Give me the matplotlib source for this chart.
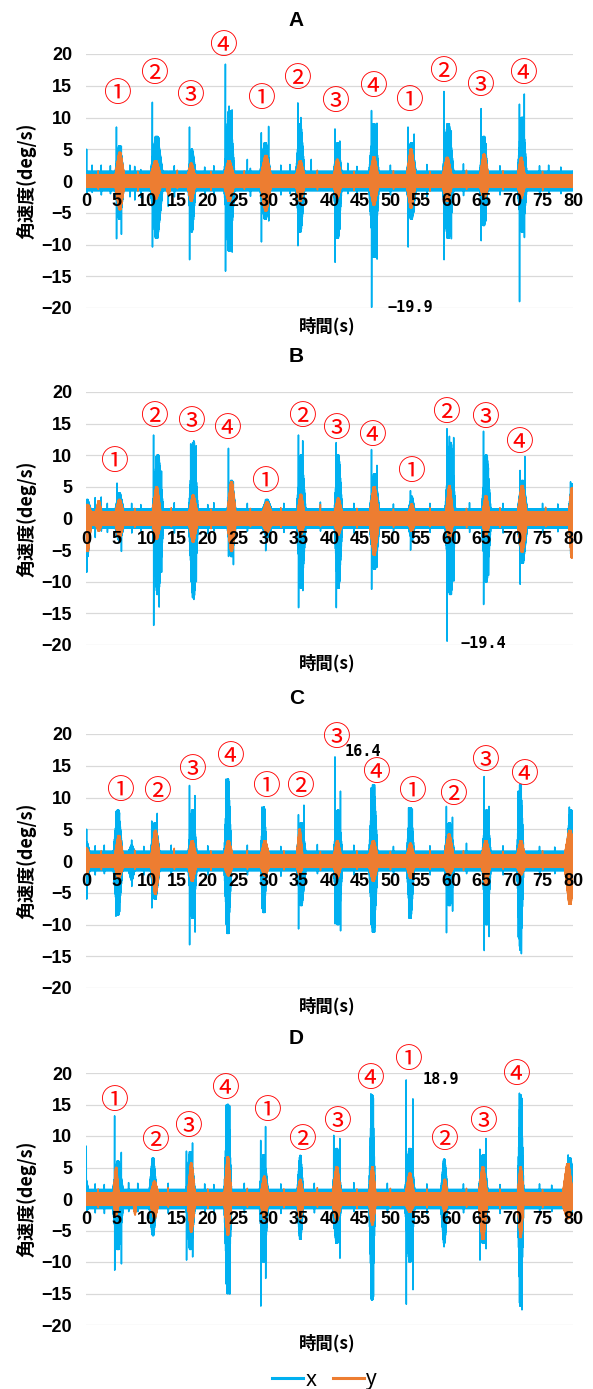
import numpy as np
import matplotlib
matplotlib.use("Agg")
import matplotlib.pyplot as plt
from matplotlib.lines import Line2D

BLUE = "#00B0F0"
ORANGE = "#ED7D31"
DT = 0.02

# baseline noise band (upper, lower) for x and y
X_BASE = (1.5, -1.5)
Y_BASE = (1.0, -1.0)

# bursts: (start s, end s, peak high, peak low); spikes: (t, high, low)
# ---- panel A ----
A_x_bursts = [(4.8, 6.2, 5.5, -6), (10.6, 12.6, 7, -9), (16.8, 18.0, 5, -8),
              (22.7, 24.4, 11, -11), (28.6, 30.3, 6, -6), (34.5, 35.9, 9, -8),
              (40.7, 42.0, 6, -9), (46.5, 48.1, 9, -12), (52.7, 54.2, 6, -6),
              (58.6, 60.4, 9, -9), (64.7, 66.0, 7, -7), (70.9, 72.4, 10, -8)]
A_x_spikes = [(0.1, 5.0, -2.0), (1.0, 2.5, -1.8), (2.5, 2.5, -2.2), (4.0, 2.4, -2.0),
              (7.2, 2.5, -2.5), (8.0, 2.3, -3.0), (9.0, 1.8, -2.6), (13.5, 1.5, -4.0),
              (14.5, 2.4, -2.5), (19.5, 2.2, -2.0), (21.0, 2.4, -2.3), (27.0, 2.0, -2.4),
              (32.0, 2.5, -2.2), (33.5, 2.6, -2.0), (44.5, 2.3, -2.4), (50.0, 2.5, -2.2),
              (56.0, 2.6, -2.5), (62.0, 2.7, -2.3), (68.0, 2.4, -2.2), (74.5, 2.4, -2.4),
              (78.0, 2.2, -2.0),
              (5.0, 8.5, -9.1), (5.8, 5.5, -8.4), (10.9, 12.4, -10.4), (11.6, 7.0, -9.0),
              (12.0, 6.8, -5.0), (17.0, 8.5, -12.4), (17.5, 4.5, -7.0), (22.9, 18.4, -14.2),
              (23.5, 11.8, -9.0), (24.0, 11.2, -11.2), (26.5, 3.4, -1.5), (28.8, 7.6, -9.6),
              (30.0, 8.6, -6.3), (34.8, 12.3, -10.2), (35.3, 10.0, -7.6), (37.0, 3.4, -1.5),
              (40.9, 8.2, -12.8), (41.7, 6.3, -7.6), (43.0, 2.8, -2.0), (46.9, 11.1, -19.9),
              (47.8, 9.1, -12.3), (52.9, 8.5, -10.4), (53.9, 7.4, -4.9), (58.8, 14.1, -12.4),
              (60.0, 7.9, -9.1), (64.9, 11.4, -9.4), (65.7, 5.9, -6.3), (71.2, 12.1, -19.0),
              (72.0, 13.7, -8.9), (76.0, 2.5, -2.0)]
A_y_bursts = [(4.8, 6.3, 4.5, -4.5), (10.6, 12.3, 3.2, -2.8), (13.2, 13.9, 0.5, -2.2),
              (16.7, 17.9, 2.8, -3.2), (22.7, 24.3, 3.2, -3.2), (28.7, 30.4, 4.0, -4.7),
              (34.5, 35.9, 3.2, -3.2), (40.7, 41.9, 3.4, -2.7), (46.6, 48.0, 3.8, -3.8),
              (52.7, 54.1, 5.0, -4.2), (58.6, 60.1, 3.7, -3.2), (64.7, 66.1, 4.2, -2.7),
              (70.9, 72.1, 3.7, -2.7)]
A_y_spikes = [(2.0, 1.6, -1.3), (8.5, 1.5, -1.6), (15.0, 1.7, -1.2), (20.5, 1.5, -1.5),
              (26.0, 1.6, -1.3), (38.0, 1.7, -1.4), (44.0, 1.5, -1.5), (50.5, 1.6, -1.3),
              (56.5, 1.5, -1.6), (62.5, 1.7, -1.3), (68.5, 1.6, -1.4), (75.0, 1.5, -1.5)]
A_marks_t = [5.1, 11.1, 17.1, 22.5, 28.8, 34.6, 40.9, 47.2, 53.1, 58.6, 64.7, 71.8]
A_marks_y = [13.7, 16.9, 13.4, 21.3, 12.9, 16.1, 12.4, 14.8, 12.6, 17.1, 14.9, 16.9]
A_marks = ["①", "②", "③", "④", "①", "②", "③", "④", "①", "②", "③", "④"]
A_note = (53.2, -20.0, "−19.9")

# ---- panel B ----
B_x_bursts = [(-0.4, 0.8, 3, -6), (4.8, 6.2, 4, -3.5), (10.9, 12.7, 10, -12),
              (16.9, 18.4, 12, -12.5), (23.2, 24.6, 6, -6), (29.0, 30.5, 3, -3),
              (34.6, 36.1, 10, -11), (40.8, 42.1, 10, -11), (46.6, 48.2, 7, -8),
              (53.0, 54.0, 3.5, -3.5), (59.0, 60.7, 12, -12), (65.0, 66.5, 10, -10),
              (70.9, 72.5, 6, -7), (79.3, 80.4, 5.5, -5.5)]
B_x_spikes = [(0.1, 2.5, -8.5), (1.5, 3.3, -3.0), (2.5, 3.4, -2.0), (3.5, 2.4, -2.2),
              (5.1, 5.6, -3.0), (5.8, 3.0, -5.2), (7.5, 2.4, -2.3), (9.0, 2.2, -2.0),
              (11.1, 13.2, -16.9), (11.5, 9.8, -9.0), (12.0, 9.0, -14.0), (12.4, 7.5, -8.5),
              (14.5, 2.5, -2.3), (17.2, 11.8, -10.0), (17.7, 12.3, -12.8), (18.1, 11.5, -10.0),
              (20.0, 2.2, -2.4), (21.0, 2.5, -2.0), (23.4, 11.1, -6.0), (24.2, 5.8, -7.3),
              (26.5, 2.4, -2.0), (29.5, 3.0, -5.1), (32.5, 2.4, -2.2), (34.9, 13.2, -14.1),
              (35.6, 12.3, -11.4), (38.5, 2.6, -2.0), (41.1, 12.0, -14.1), (41.7, 8.5, -9.9),
              (44.0, 2.4, -2.3), (46.9, 10.9, -11.2), (47.8, 8.4, -7.7), (50.5, 2.3, -2.1),
              (53.3, 4.4, -5.0), (56.5, 2.4, -2.2), (59.3, 14.2, -19.4), (59.7, 13.0, -12.0),
              (60.4, 12.8, -9.9), (63.0, 2.5, -2.2), (65.3, 13.8, -13.6), (66.1, 8.0, -9.0),
              (68.5, 2.4, -2.3), (71.3, 7.6, -10.4), (72.1, 9.8, -5.1), (75.0, 2.4, -2.2),
              (77.5, 2.3, -2.1), (79.6, 5.8, -5.6)]
B_y_bursts = [(-0.4, 0.9, 2.2, -5.2), (1.6, 2.6, 2.8, -2.0), (4.8, 6.2, 3.0, -3.0),
              (10.9, 12.3, 5.0, -3.2), (16.9, 18.3, 3.7, -3.7), (23.2, 24.6, 5.8, -5.2),
              (29.0, 30.5, 2.6, -2.2), (34.7, 35.9, 3.8, -2.5), (40.8, 42.1, 3.2, -2.6),
              (46.6, 48.1, 5.0, -5.8), (53.0, 54.0, 2.3, -2.0), (59.1, 60.3, 5.2, -3.2),
              (65.1, 66.3, 3.6, -2.6), (70.9, 72.4, 5.2, -5.3), (79.3, 80.3, 4.8, -6.2)]
B_y_spikes = [(8.0, 1.6, -1.4), (14.0, 1.7, -1.3), (20.5, 1.5, -1.6), (27.0, 1.6, -1.3),
              (32.0, 1.7, -1.4), (38.5, 2.2, -1.3), (44.5, 1.6, -1.5), (50.5, 1.5, -1.4),
              (56.5, 1.7, -1.3), (62.5, 1.6, -1.5), (68.0, 1.7, -1.4), (75.5, 1.8, -1.3)]
B_marks_t = [4.6, 11.2, 17.2, 23.1, 29.4, 35.4, 41.1, 46.9, 53.3, 59.2, 65.5, 71.1]
B_marks_y = [8.9, 16.1, 15.3, 14.1, 5.8, 16.1, 14.1, 13.0, 7.3, 16.7, 15.9, 11.9]
B_marks = ["①", "②", "③", "④", "①", "②", "③", "④", "①", "②", "③", "④"]
B_note = (65.2, -19.7, "−19.4")

# ---- panel C ----
C_x_bursts = [(-0.4, 0.6, 3, -4), (4.5, 6.0, 8, -8.5), (7.0, 8.0, 2.5, -3),
              (10.6, 12.1, 6, -6), (16.8, 18.2, 8, -9), (22.7, 23.9, 12.9, -11.4),
              (28.7, 29.7, 8.5, -8.1), (34.6, 36.1, 6, -7), (40.7, 42.1, 8, -10),
              (46.5, 47.9, 12, -11.2), (52.7, 53.9, 8.4, -9), (58.9, 60.5, 6, -7),
              (65.1, 66.5, 8, -10), (70.8, 71.9, 12, -14), (78.9, 80.4, 8, -5)]
C_x_spikes = [(0.1, 5.0, -6.0), (1.5, 2.4, -2.2), (3.0, 2.5, -2.0), (4.9, 7.8, -8.7),
              (5.5, 7.6, -8.0), (7.5, 3.3, -4.0), (9.5, 2.3, -2.2), (10.8, 6.3, -7.4),
              (11.7, 7.5, -4.0), (14.0, 2.5, -2.4), (17.0, 11.9, -13.2), (17.9, 10.3, -11.2),
              (20.0, 2.4, -2.2), (23.0, 12.9, -10.0), (23.5, 12.5, -11.4), (26.5, 2.5, -2.2),
              (28.9, 8.5, -7.5), (29.4, 8.2, -8.1), (32.0, 2.3, -2.4), (34.9, 7.3, -10.7),
              (35.8, 8.8, -4.0), (38.0, 2.6, -2.0), (40.9, 16.4, -9.9), (41.8, 11.0, -11.0),
              (44.0, 2.5, -2.2), (46.8, 11.5, -10.0), (47.4, 12.0, -11.2), (50.5, 2.3, -2.3),
              (53.0, 8.4, -9.0), (53.6, 8.2, -6.0), (56.5, 2.4, -2.2), (59.2, 8.6, -11.3),
              (60.2, 6.9, -7.9), (62.5, 2.8, -2.0), (65.4, 13.3, -14.1), (66.2, 8.6, -11.9),
              (68.5, 2.4, -2.2), (71.0, 11.0, -12.0), (71.5, 12.0, -14.6), (74.5, 2.3, -2.3),
              (77.0, 2.2, -2.0), (79.4, 8.5, -4.0)]
C_y_bursts = [(-0.4, 0.6, 2.0, -2.0), (4.7, 6.1, 4.0, -2.7), (10.7, 12.1, 4.8, -5.2),
              (16.8, 18.1, 3.2, -3.2), (22.7, 24.1, 3.2, -2.3), (28.7, 30.1, 3.2, -2.3),
              (34.6, 35.6, 5.0, -2.2), (40.7, 41.9, 3.2, -2.7), (46.5, 47.9, 3.2, -3.2),
              (52.7, 53.9, 2.8, -2.7), (58.9, 60.4, 4.2, -2.2), (65.0, 66.4, 3.2, -3.7),
              (70.8, 72.1, 3.2, -2.2), (78.6, 80.4, 4.8, -6.8)]
C_y_spikes = [(2.5, 1.6, -1.4), (8.0, 1.7, -1.3), (14.5, 2.0, -1.3), (20.5, 1.6, -1.5),
              (26.5, 1.7, -1.3), (32.5, 1.6, -1.4), (38.5, 1.5, -1.5), (44.5, 1.6, -1.3),
              (50.0, 1.5, -1.4), (56.5, 1.7, -1.3), (62.0, 1.6, -1.5), (68.5, 1.5, -1.3),
              (75.0, 1.6, -1.4)]
C_marks_t = [5.6, 11.6, 17.4, 23.6, 29.5, 35.1, 41.0, 47.6, 53.6, 60.3, 65.5, 72.0]
C_marks_y = [11.0, 10.8, 14.4, 16.3, 11.6, 11.6, 19.4, 13.9, 10.9, 10.4, 15.7, 13.5]
C_marks = ["①", "②", "③", "④", "①", "②", "③", "④", "①", "②", "③", "④"]
C_note = (45.5, 17.2, "16.4")

# ---- panel D ----
D_x_bursts = [(-0.4, 0.4, 3, -2), (4.4, 6.1, 6, -8), (10.4, 11.6, 6.5, -5.8),
              (16.4, 17.9, 7.5, -8), (22.7, 23.9, 15, -15), (28.5, 29.9, 7, -10),
              (34.7, 35.7, 6.9, -6.4), (40.5, 41.9, 8, -7), (46.5, 47.5, 16.5, -16),
              (52.4, 54.0, 8, -10), (58.3, 59.4, 6.3, -7), (64.5, 66.0, 7, -7),
              (70.9, 71.9, 16.5, -17), (78.7, 80.3, 6.5, -2.5)]
D_x_spikes = [(0.05, 8.4, -2.0), (1.5, 2.4, -2.2), (3.0, 2.3, -2.3), (4.7, 13.2, -11.3),
              (5.8, 7.4, -10.3), (7.0, 2.6, -2.0), (8.5, 2.5, -2.0), (10.9, 6.5, -5.5),
              (13.5, 2.5, -2.3), (16.5, 7.6, -9.7), (17.5, 8.9, -9.2), (19.5, 2.4, -2.2),
              (21.0, 2.3, -2.4), (23.0, 14.9, -13.5), (23.6, 14.8, -15.1), (26.0, 2.5, -2.2),
              (28.7, 9.3, -17.0), (29.5, 11.5, -12.6), (32.0, 2.4, -2.3), (35.2, 6.9, -6.4),
              (37.5, 2.5, -2.2), (40.7, 10.1, -4.7), (41.7, 9.6, -9.4), (44.0, 2.6, -2.0),
              (46.8, 16.7, -15.8), (47.2, 16.0, -15.5), (49.5, 2.5, -2.2), (52.6, 18.9, -16.7),
              (53.7, 15.9, -14.4), (56.0, 2.4, -2.3), (58.8, 6.3, -7.6), (62.0, 2.4, -2.2),
              (64.7, 7.9, -9.7), (65.7, 9.6, -7.9), (68.0, 2.3, -2.3), (71.2, 16.8, -16.5),
              (71.6, 16.0, -17.6), (74.5, 2.4, -2.2), (76.5, 2.2, -2.0), (79.2, 7.0, -2.0)]
D_y_bursts = [(4.5, 5.4, 5.0, -2.5), (7.8, 8.3, 0.5, -2.5), (10.6, 11.9, 2.8, -3.1),
              (16.7, 17.9, 5.7, -5.2), (22.7, 23.9, 6.7, -5.7), (28.7, 29.9, 3.6, -3.1),
              (34.7, 35.7, 3.1, -3.1), (40.5, 41.9, 5.1, -3.4), (46.5, 47.6, 5.1, -4.1),
              (52.5, 53.9, 4.1, -2.1), (58.5, 59.4, 3.1, -2.1), (64.5, 65.9, 5.1, -6.4),
              (70.9, 71.9, 5.1, -6.1), (78.3, 80.0, 5.6, -3.1)]
D_y_spikes = [(2.0, 1.6, -1.4), (13.5, 1.8, -1.3), (20.0, 1.6, -1.5), (26.5, 1.7, -1.3),
              (32.5, 1.6, -1.4), (38.0, 1.8, -1.3), (44.5, 1.6, -1.5), (50.0, 1.7, -1.3),
              (56.0, 1.6, -1.4), (62.5, 1.7, -1.3), (68.0, 1.6, -1.5), (75.0, 1.5, -1.4)]
D_marks_t = [4.5, 11.3, 16.8, 22.8, 29.7, 35.4, 41.2, 46.7, 52.9, 58.8, 65.2, 70.7]
D_marks_y = [15.5, 9.2, 11.4, 17.4, 13.9, 9.4, 12.3, 19.0, 22.0, 9.4, 12.3, 19.7]
D_marks = ["①", "②", "③", "④", "①", "②", "③", "④", "①", "②", "③", "④"]
D_note = (58.3, 18.9, "18.9")

PANELS = [
    ("A", A_x_bursts, A_x_spikes, A_y_bursts, A_y_spikes, A_marks_t, A_marks_y, A_marks, A_note),
    ("B", B_x_bursts, B_x_spikes, B_y_bursts, B_y_spikes, B_marks_t, B_marks_y, B_marks, B_note),
    ("C", C_x_bursts, C_x_spikes, C_y_bursts, C_y_spikes, C_marks_t, C_marks_y, C_marks, C_note),
    ("D", D_x_bursts, D_x_spikes, D_y_bursts, D_y_spikes, D_marks_t, D_marks_y, D_marks, D_note),
]
# pixel rows of the +20 / -20 gridlines, and title rows
AX_TOP = [54, 392, 734, 1073]
AX_BOT = [308, 645, 988, 1325]
TITLE_Y = [20, 357, 698, 1038]

W, H = 593, 1389
NUM = ["Liberation Sans", "DejaVu Sans"]
CJK = ["Noto Sans CJK JP", "DejaVu Sans"]


def trace(base, bursts, spikes):
    t = np.arange(0, 80 + DT / 2, DT)
    hi = np.full(t.shape, base[0])
    lo = np.full(t.shape, base[1])
    for t0, t1, bh, bl in bursts:
        c, h = (t0 + t1) / 2, (t1 - t0) / 2
        # short flat top, tapering to the band at the burst edges
        f = np.clip((1 - np.abs(t - c) / h) / 0.8, 0, 1)
        hi = np.maximum(hi, base[0] + (bh - base[0]) * f)
        lo = np.minimum(lo, base[1] + (bl - base[1]) * f)
    v = np.where(np.arange(t.size) % 2 == 0, hi, lo)
    for ts, sh, sl in spikes:
        i = min(int(round(ts / DT)), t.size - 2)
        v[i] = sh
        v[i + 1] = sl
    return t, v


fig = plt.figure(figsize=(W / 100, H / 100), dpi=100)

for k, (name, xb, xs, yb, ys, mt, my, ml, note) in enumerate(PANELS):
    bottom = 1 - AX_BOT[k] / H
    height = (AX_BOT[k] - AX_TOP[k]) / H
    ax = fig.add_axes([86 / W, bottom, (573 - 86) / W, height])
    for gy in range(-20, 21, 5):
        ax.axhline(gy, color="#D9D9D9", lw=0.9, zorder=0)
    t, vx = trace(X_BASE, xb, xs)
    _, vy = trace(Y_BASE, yb, ys)
    ax.plot(t, vx, color=BLUE, lw=1.1, zorder=1)
    ax.plot(t, vy, color=ORANGE, lw=1.1, zorder=1.5)
    ax.set_xlim(0, 80)
    ax.set_ylim(-20, 20)
    ax.set_xticks(range(0, 81, 5))
    ax.set_yticks(range(-20, 21, 5))
    ax.set_yticklabels([str(v).replace("-", "−") for v in range(-20, 21, 5)])
    for s in ax.spines.values():
        s.set_visible(False)
    ax.spines["bottom"].set_position(("data", 0))
    ax.tick_params(axis="both", length=0)
    ax.tick_params(axis="x", pad=9)
    ax.tick_params(axis="y", pad=10)
    ax.xaxis.set_zorder(3)
    for lab in ax.get_xticklabels() + ax.get_yticklabels():
        lab.set_fontfamily(NUM)
        lab.set_fontweight("bold")
        lab.set_fontsize(13)
    for tx, ty, s in zip(mt, my, ml):
        ax.text(tx, ty, s, color="#FF0000", fontsize=20, family=CJK,
                ha="center", va="center", zorder=4)
    ax.text(note[0], note[1], note[2], fontsize=11, family="DejaVu Sans Mono",
            fontweight="bold", ha="center", va="center", zorder=4)

    fig.text(0.5, 1 - TITLE_Y[k] / H, name, ha="center", va="center",
             fontsize=15, fontweight="bold", family=NUM)
    fig.text(27 / W, 1 - (AX_TOP[k] + AX_BOT[k]) / 2 / H, "角速度(deg/s)",
             rotation=90, ha="center", va="center", fontsize=13,
             fontweight="bold", family=CJK)
    fig.text(327 / W, 1 - (AX_BOT[k] + 18) / H, "時間(s)", ha="center",
             va="center", fontsize=12.5, fontweight="bold", family=CJK)

handles = [Line2D([], [], color=BLUE, lw=2.2), Line2D([], [], color=ORANGE, lw=2.2)]
fig.legend(handles, ["x", "y"], loc="center", bbox_to_anchor=(0.547, 1 - 1380 / H),
           ncol=2, frameon=False, handlelength=1.5, handletextpad=0.1,
           columnspacing=0.8, prop={"family": "Noto Sans", "size": 15})

fig.savefig("out.png", dpi=100)
